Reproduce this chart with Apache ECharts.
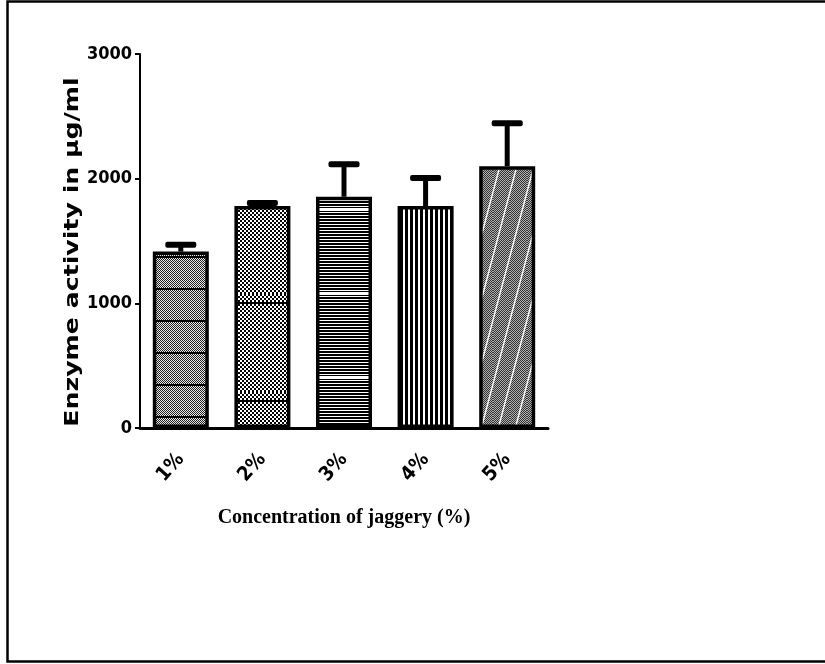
<!DOCTYPE html>
<html>
<head>
<meta charset="utf-8">
<script src="https://cdn.jsdelivr.net/npm/echarts@6/dist/echarts.min.js"></script>
<style>html,body{margin:0;padding:0;background:#fff}#c{width:825px;height:664px}</style>
</head>
<body>
<div id="c"></div>
<script>
// ---- data ----
var categories = ['1%', '2%', '3%', '4%', '5%'];
var meanValues = [1415, 1780, 1855, 1780, 2100];
var errorValues = [55, 25, 260, 225, 345];
var yTicks = [0, 1000, 2000, 3000];
var yTitle = 'Enzyme activity in µg/ml';
var xTitle = 'Concentration of jaggery (%)';

// ---- patterns (style only) ----
function tile(w, h, draw) {
  var c = document.createElement('canvas');
  c.width = w; c.height = h;
  var g = c.getContext('2d');
  draw(g, w, h);
  return { image: c, repeat: 'repeat' };
}
function checker(g, w, h, a, b, s) {
  for (var y = 0; y < h; y += s) for (var x = 0; x < w; x += s) {
    g.fillStyle = (((x / s) + (y / s)) % 2 === 0) ? a : b;
    g.fillRect(x, y, s, s);
  }
}
var patterns = [
  tile(4, 32, function (g, w, h) { checker(g, w, h, '#222', '#e8e8e8', 1); g.fillStyle = '#000'; g.fillRect(0, 0, w, 2); }),
  tile(4, 98, function (g, w, h) { checker(g, w, h, '#000', '#fff', 2); g.fillStyle = '#000'; g.fillRect(0, 8, w, 2); }),
  tile(4, 84, function (g, w, h) {
    g.fillStyle = '#fff'; g.fillRect(0, 0, w, h);
    g.fillStyle = '#000';
    for (var y = 0; y < h; y += 3) g.fillRect(0, y, w, 2);
    g.fillStyle = '#fff'; g.fillRect(0, 40, w, 3);
  }),
  tile(5, 4, function (g, w, h) { g.fillStyle = '#fff'; g.fillRect(0, 0, w, h); g.fillStyle = '#000'; g.fillRect(0, 0, 3, h); }),
  tile(17, 64, function (g, w, h) {
    checker(g, w, h, '#333', '#b0b0b0', 1);
    g.strokeStyle = '#fff'; g.lineWidth = 1.4;
    g.beginPath(); g.moveTo(-17, 128); g.lineTo(17, 0); g.stroke();
    g.beginPath(); g.moveTo(0, 128); g.lineTo(34, 0); g.stroke();
    g.beginPath(); g.moveTo(-34, 128); g.lineTo(0, 0); g.stroke();
  })
];

var barData = meanValues.map(function (v, i) {
  return { value: v, itemStyle: { color: patterns[i] } };
});
var errData = meanValues.map(function (v, i) { return [i, v, v + errorValues[i]]; });

var narrow = '"Liberation Sans Narrow", "Arial Narrow", "DejaVu Sans Condensed", sans-serif';

var chart = echarts.init(document.getElementById('c'), null, { renderer: 'canvas' });
chart.setOption({
  animation: false,
  backgroundColor: '#fff',
  grid: { left: 140, top: 54, right: 277, bottom: 236, containLabel: false },
  xAxis: {
    type: 'category',
    data: categories,
    name: xTitle,
    nameLocation: 'middle',
    nameGap: 80,
    nameTextStyle: { fontFamily: '"Liberation Serif", "Times New Roman", serif', fontWeight: 'bold', fontSize: 20, color: '#000' },
    axisLine: { lineStyle: { color: '#000', width: 3 } },
    axisTick: { alignWithLabel: true, length: 6, lineStyle: { color: '#000', width: 2 } },
    axisLabel: { rotate: 48, margin: 28, fontFamily: narrow, fontWeight: 'bold', fontSize: 20, color: '#000' },
    splitLine: { show: false }
  },
  yAxis: {
    type: 'value',
    min: 0, max: 3000, interval: 1000,
    axisLine: { show: true, lineStyle: { color: '#000', width: 2 } },
    axisTick: { show: true, length: 5, lineStyle: { color: '#000', width: 2 } },
    axisLabel: { margin: 8, fontFamily: narrow, fontWeight: 'bold', fontSize: 18, color: '#000',
      formatter: function (v) { return yTicks.indexOf(v) >= 0 ? String(v) : ''; } },
    splitLine: { show: false }
  },
  series: [
    {
      type: 'bar',
      data: barData,
      barWidth: 56,
      itemStyle: { borderColor: '#000', borderWidth: 3.5 },
      z: 2
    },
    {
      type: 'custom',
      data: errData,
      z: 3,
      renderItem: function (params, api) {
        var base = api.coord([api.value(0), api.value(1)]);
        var top = api.coord([api.value(0), api.value(2)]);
        var x = base[0];
        return {
          type: 'group',
          children: [
            { type: 'rect', shape: { x: x - 2.5, y: top[1], width: 5, height: base[1] - top[1] }, style: { fill: '#000' } },
            { type: 'rect', shape: { x: x - 15.5, y: top[1] - 3, width: 31, height: 6, r: 2 }, style: { fill: '#000' } }
          ]
        };
      }
    }
  ],
  graphic: [
    { type: 'rect', shape: { x: 7.5, y: 1.5, width: 830, height: 660 }, style: { fill: null, stroke: '#000', lineWidth: 2.5 }, silent: true },
    { type: 'text', x: 73, y: 252, rotation: Math.PI / 2, scaleX: 1.26, silent: true,
      style: { text: yTitle, fill: '#000', font: 'bold 20px "DejaVu Sans", sans-serif', align: 'center', verticalAlign: 'middle' } }
  ]
});
</script>
</body>
</html>
